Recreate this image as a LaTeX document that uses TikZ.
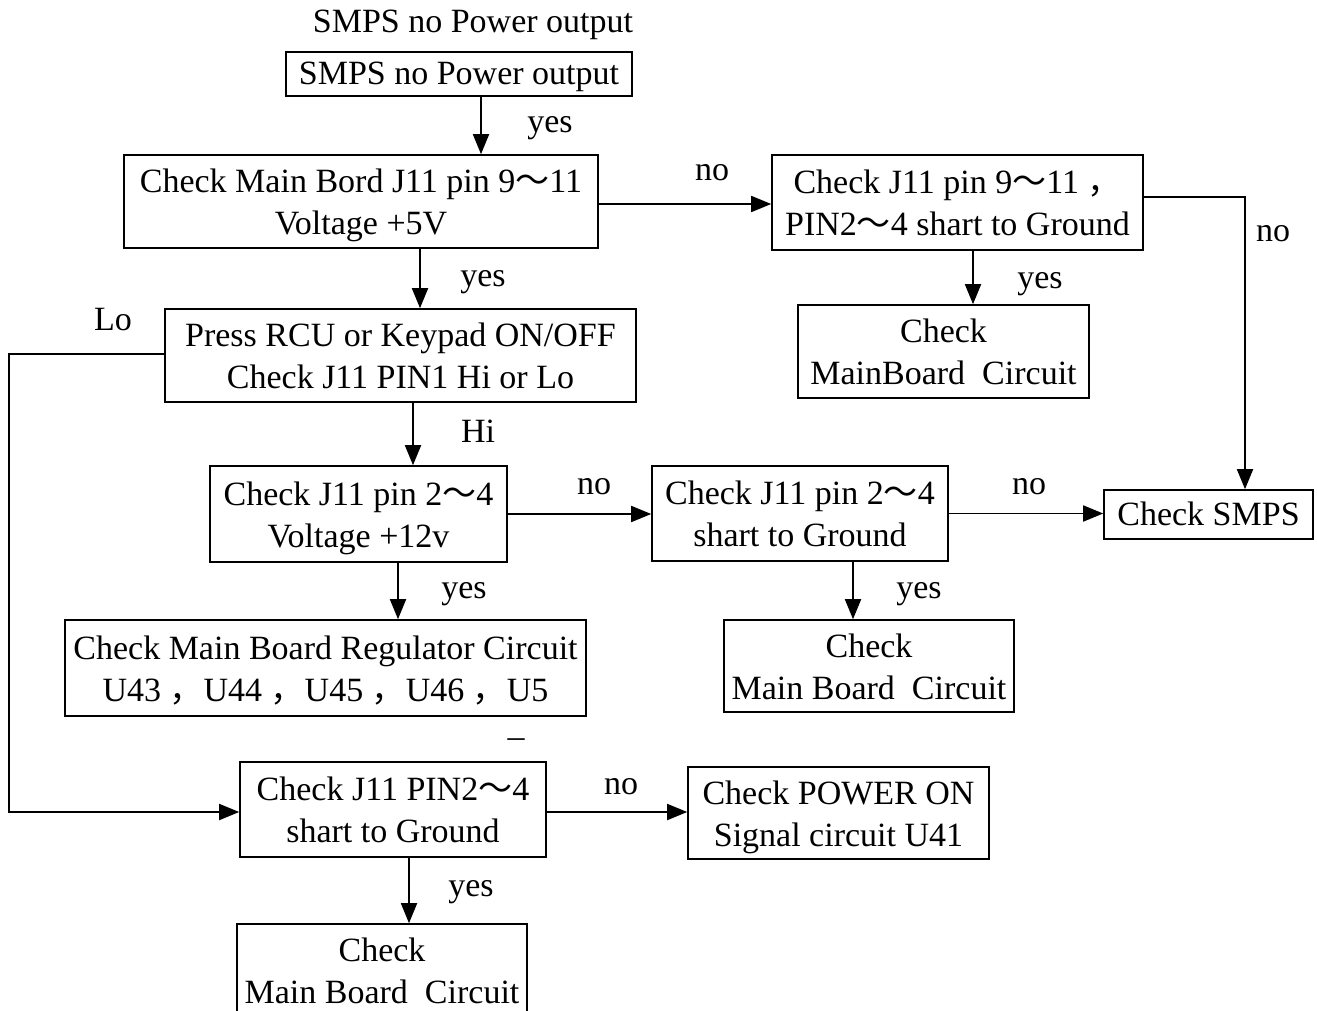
\documentclass[tikz,border=0pt]{standalone}
\usepackage{fontspec}
\setmainfont{Liberation Serif}
\newfontfamily\cjk{Noto Sans CJK SC}
\usetikzlibrary{arrows.meta}
\newcommand\mytilde{{\cjk ～}}
\newcommand\mycomma{{\cjk ，}}
\newcommand\twol[2]{\rule{0pt}{32pt}#1\\#2\rule[-8pt]{0pt}{8pt}}
\newcommand\onel[1]{\rule{0pt}{28pt}#1\rule[-7pt]{0pt}{7pt}}
\begin{document}
\begin{tikzpicture}[x=1pt,y=-1pt,
  every node/.style={font=\fontsize{34}{42}\selectfont},
  box/.style={draw,line width=1.6pt,align=center,inner sep=0pt},
  arr/.style={line width=1.8pt,-{Triangle[length=20pt,width=16pt]}},
  lbl/.style={inner sep=0pt,anchor=base}]
\useasboundingbox (0,0) rectangle (1317,1011);
\clip (0,0) rectangle (1317,1011);
\fill[white] (0,0) rectangle (1317,1011);
% title
\node[lbl] (T) at (473,33) {SMPS no Power output};
% boxes
\node[box,minimum width=346pt,minimum height=44pt] (A) at (459,74) {\onel{SMPS no Power output}};
\node[box,minimum width=474pt,minimum height=93pt] (B) at (361,201.5) {\twol{Check Main Bord J11 pin 9\mytilde11}{Voltage +5V}};
\node[box,minimum width=371pt,minimum height=95pt] (C) at (957.5,202.5) {\twol{Check J11 pin 9\mytilde11 \mycomma}{PIN2\mytilde4 shart to Ground}};
\node[box,minimum width=291pt,minimum height=93pt] (D) at (943.5,351.5) {\twol{Check}{MainBoard\ \ Circuit}};
\node[box,minimum width=471pt,minimum height=93pt] (E) at (400.5,355.5) {\twol{Press RCU or Keypad ON/OFF}{Check J11 PIN1 Hi or Lo}};
\node[box,minimum width=297pt,minimum height=96pt] (F) at (358.5,514) {\twol{Check J11 pin 2\mytilde4}{Voltage +12v}};
\node[box,minimum width=296pt,minimum height=95pt] (G) at (800,513.5) {\twol{Check J11 pin 2\mytilde4}{shart to Ground}};
\node[box,minimum width=209pt,minimum height=49pt] (H) at (1208.5,514.5) {\onel{Check SMPS}};
\node[box,minimum width=521pt,minimum height=96pt] (I) at (325.5,668) {\twol{Check Main Board Regulator Circuit}{U43 \mycomma U44 \mycomma U45 \mycomma U46 \mycomma U5}};
\node[box,minimum width=290pt,minimum height=92pt] (J) at (869,666) {\twol{Check}{Main Board\ \ Circuit}};
\node[box,minimum width=306pt,minimum height=95pt] (K) at (393,809.5) {\twol{Check J11 PIN2\mytilde4}{shart to Ground}};
\node[box,minimum width=301pt,minimum height=92pt] (L) at (838.5,813) {\twol{Check POWER ON}{Signal circuit U41}};
\node[box,minimum width=290pt,minimum height=93pt] (M) at (382,970.5) {\twol{Check}{Main Board\ \ Circuit}};
% connectors
\draw[arr] ([xshift=22pt]A.south) -- ([xshift=22pt]A.south |- B.north);
\draw[arr] ([yshift=-2.5pt]B.east) -- ([yshift=-2.5pt]B.east -| C.west);
\draw[arr] ([yshift=5.5pt]C.east) -| ([xshift=36.5pt]H.north);
\draw[arr] ([xshift=15.5pt]C.south) -- ([xshift=15.5pt]C.south |- D.north);
\draw[arr] ([xshift=59pt]B.south) -- ([xshift=59pt]B.south |- E.north);
\draw[arr] ([yshift=1.5pt]E.west) -- ++(-155pt,0) |- ([yshift=-2.5pt]K.west);
\draw[arr] ([xshift=12.5pt]E.south) -- ([xshift=12.5pt]E.south |- F.north);
\draw[arr] (F.east) -- (F.east -| G.west);
\draw[arr] (G.east) -- (G.east -| H.west);
\draw[arr] ([xshift=39.5pt]F.south) -- ([xshift=39.5pt]F.south |- I.north);
\draw[arr] ([xshift=53pt]G.south) -- ([xshift=53pt]G.south |- J.north);
\draw[arr] ([yshift=-2.5pt]K.east) -- ([yshift=-2.5pt]K.east -| L.west);
\draw[arr] ([xshift=16pt]K.south) -- ([xshift=16pt]K.south |- M.north);
% labels
\node[lbl] (l1) at (550,133) {yes};
\node[lbl] (l2) at (712,181) {no};
\node[lbl] (l3) at (1273,241) {no};
\node[lbl] (l4) at (1040,288) {yes};
\node[lbl] (l5) at (483,286) {yes};
\node[lbl] (l6) at (113,330) {Lo};
\node[lbl] (l7) at (478,442) {Hi};
\node[lbl] (l8) at (594,494) {no};
\node[lbl] (l9) at (1029,494) {no};
\node[lbl] (l10) at (464,598) {yes};
\node[lbl] (l11) at (919,598) {yes};
\node[lbl] (l12) at (621,794) {no};
\node[lbl] (l13) at (471,896) {yes};
\node[lbl] (l14) at (516,747) {\textendash};
\end{tikzpicture}
\end{document}
